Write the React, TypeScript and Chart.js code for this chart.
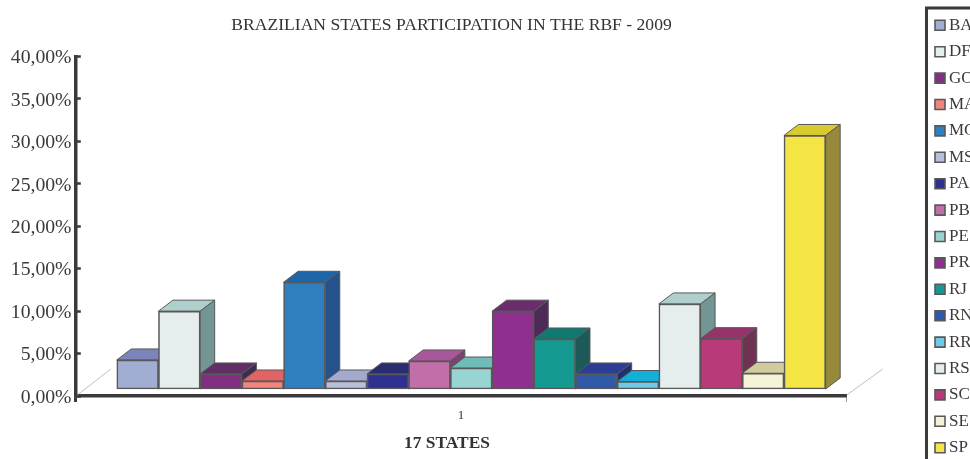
import React, { useEffect, useRef } from "react";
import { Chart, registerables } from "chart.js";

Chart.register(...registerables);

const states = ["BA", "DF", "GO", "MA", "MG", "MS", "PA", "PB", "PE", "PR", "RJ", "RN", "RR", "RS", "SC", "SE", "SP"];
const participation = [4.25, 10.0, 2.6, 1.77, 13.4, 1.77, 2.6, 4.13, 3.3, 10.0, 6.72, 2.6, 1.71, 10.85, 6.76, 2.68, 30.7];
const frontColors = ["#a1aed2", "#e5eeed", "#812f82", "#f0857e", "#2f80c0", "#b8bfda", "#2e3192", "#c26ea8", "#98d5d2", "#8f2f8e", "#149a90", "#2f5aa8", "#6fcae8", "#e5eeed", "#b93a78", "#f6f2d5", "#f4e544"];
const topColors = ["#7b85bb", "#afcfcc", "#5f2f66", "#e06464", "#1d66a8", "#a4a9cd", "#2b2d72", "#a8589a", "#6fbcb8", "#6b2c6e", "#0f7a70", "#2b3e94", "#12b0d8", "#afcfcc", "#96336b", "#d3cba0", "#d9ca2e"];
const sideColors = ["#59608c", "#739695", "#3d2c4e", "#a04a4a", "#25528a", "#7c809c", "#23245a", "#7c4272", "#548f8c", "#4e2b56", "#1c5a58", "#233070", "#0e86a4", "#739695", "#6e3350", "#a09a78", "#968a3a"];
const yTicksMax = 40;
const xLabels = ["1"];
const chartTitle = "BRAZILIAN STATES PARTICIPATION IN THE RBF - 2009";
const xTitle = "17 STATES";

const INK = "#3a3a3c";
const EDGE = "#58585a";
const DX = 14.5;
const DY = 11;

const depthPlugin = {
  id: "depth",
  beforeDatasetsDraw(chart: any) {
    const { ctx, chartArea } = chart;
    ctx.save();
    ctx.strokeStyle = "#b0b0b0";
    ctx.lineWidth = 0.8;
    ctx.beginPath();
    ctx.moveTo(chartArea.left + 2, chartArea.bottom - 1);
    ctx.lineTo(chartArea.left + 35.5, chartArea.bottom - 27);
    ctx.moveTo(chartArea.right, chartArea.bottom - 1);
    ctx.lineTo(chartArea.right + 36, chartArea.bottom - 27);
    ctx.stroke();
    ctx.strokeStyle = EDGE;
    ctx.lineWidth = 1;
    ctx.lineJoin = "round";
    chart.data.datasets.forEach((_: any, i: number) => {
      const bar = chart.getDatasetMeta(i).data[0];
      const l = bar.x - bar.width / 2;
      const r = bar.x + bar.width / 2;
      const t = bar.y;
      const b = bar.base;
      ctx.fillStyle = topColors[i];
      ctx.beginPath();
      ctx.moveTo(l, t);
      ctx.lineTo(l + DX, t - DY);
      ctx.lineTo(r + DX, t - DY);
      ctx.lineTo(r, t);
      ctx.closePath();
      ctx.fill();
      ctx.stroke();
      ctx.fillStyle = sideColors[i];
      ctx.beginPath();
      ctx.moveTo(r, t);
      ctx.lineTo(r + DX, t - DY);
      ctx.lineTo(r + DX, b - DY);
      ctx.lineTo(r, b);
      ctx.closePath();
      ctx.fill();
      ctx.stroke();
    });
    ctx.restore();
  },
};

const framePlugin = {
  id: "frame",
  afterLayout(chart: any) {
    const legend = chart.legend;
    legend.left = 930.1;
    legend.right = 1030;
    legend.top = 7.4;
    legend.bottom = 500;
    chart.boxes.forEach((b: any) => {
      const text = b.options && b.options.text;
      if (text === xTitle) {
        b.left -= 4.5;
        b.right -= 4.5;
      }
    });
  },
  beforeDraw(chart: any) {
    const { ctx } = chart;
    ctx.save();
    ctx.strokeStyle = INK;
    ctx.lineWidth = 3;
    ctx.strokeRect(926.5, 8, 120, 500);
    ctx.restore();
  },
};

export default function App() {
  const ref = useRef<HTMLCanvasElement>(null);
  useEffect(() => {
    document.body.style.margin = "0";
    const serif = "'Liberation Serif'";
    const chart = new Chart(ref.current as HTMLCanvasElement, {
      type: "bar",
      data: {
        labels: xLabels,
        datasets: states.map((s, i) => ({
          label: s,
          data: [{ x: 1, y: participation[i] }],
          backgroundColor: frontColors[i],
          borderColor: EDGE,
          borderWidth: 1.6,
          borderSkipped: false,
          base: 0.83,
          barThickness: 41.7,
          barPercentage: 1,
          categoryPercentage: 1,
          xAxisID: "slots",
          yAxisID: "y",
        })),
      } as any,
      options: {
        animation: false,
        responsive: false,
        devicePixelRatio: 1,
        layout: { padding: { left: 0, right: 67, top: 0, bottom: 0 } },
        plugins: {
          tooltip: { enabled: false },
          title: {
            display: true,
            text: chartTitle,
            color: "#333333",
            font: { family: serif, size: 17.6, weight: "normal" },
            padding: { top: 15, bottom: 20.4 },
          },
          subtitle: {
            display: true,
            position: "bottom",
            text: xTitle,
            color: "#333333",
            font: { family: serif, size: 17.4, weight: "bold" },
            padding: { top: 7, bottom: 5 },
          },
          legend: {
            position: "right",
            align: "start",
            labels: {
              usePointStyle: true,
              pointStyle: "rect",
              boxWidth: 1,
              boxHeight: 10,
              padding: 9.4,
              color: "#3a3a3c",
              font: { family: serif, size: 17 },
            },
          },
        },
        scales: {
          x: {
            type: "category",
            offset: true,
            grid: {
              offset: true,
              drawOnChartArea: false,
              tickLength: 6,
              tickWidth: (c: any) => (c.index === 0 ? 3 : 1),
              tickColor: (c: any) => (c.index === 0 ? INK : "#9a9a9a"),
            },
            border: { color: INK, width: 3.5 },
            ticks: { color: "#333333", font: { family: serif, size: 13 }, padding: 6, maxRotation: 0 },
            afterFit(s: any) {
              s.height = 30.1;
            },
          },
          slots: { type: "linear", axis: "x", display: false, min: 0, max: 1.9428 },
          y: {
            min: 0,
            max: yTicksMax,
            ticks: {
              stepSize: 5,
              color: "#3a3a3c",
              padding: 9.3,
              labelOffset: 1.5,
              font: { family: serif, size: 19.7 },
              callback: (v: any) => Number(v).toFixed(2).replace(".", ",") + "%",
            },
            grid: { drawOnChartArea: false, tickLength: -5.5, tickWidth: 2.5, tickColor: INK },
            border: { color: INK, width: 3.5 },
            afterFit(s: any) {
              s.width = 75.3;
            },
          },
        },
      } as any,
      plugins: [depthPlugin, framePlugin],
    });
    return () => chart.destroy();
  }, []);
  return <canvas ref={ref} width={970} height={459} style={{ display: "block" }} />;
}
